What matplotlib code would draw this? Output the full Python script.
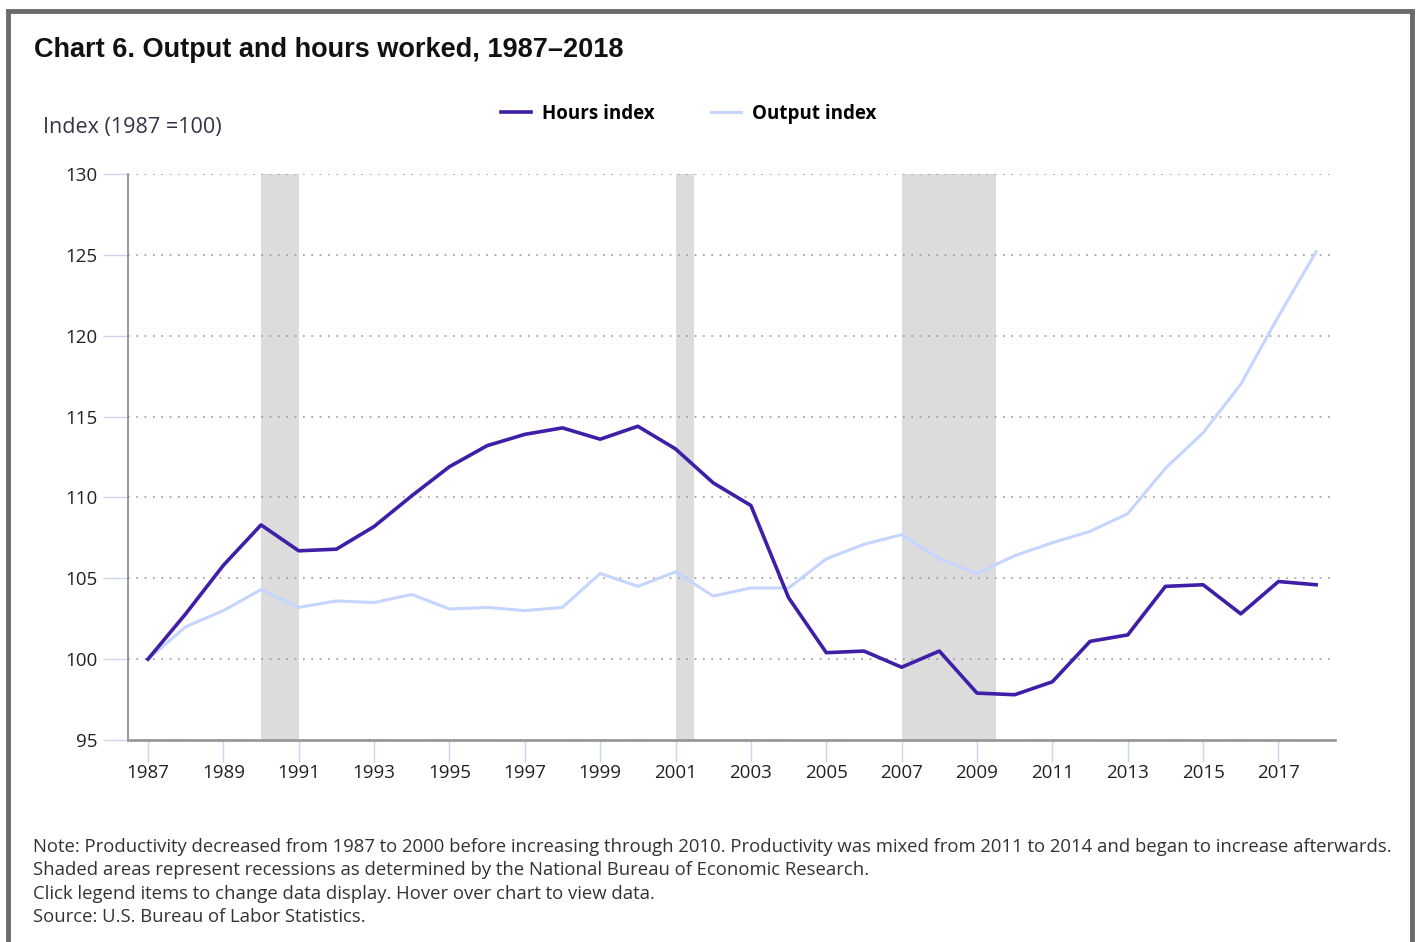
import matplotlib.pyplot as plt
from matplotlib.patches import Rectangle

years = list(range(1987, 2019))
hours = [100.0, 102.8, 105.8, 108.3, 106.7, 106.8, 108.2, 110.1, 111.9, 113.2,
         113.9, 114.3, 113.6, 114.4, 113.0, 110.9, 109.5, 103.8, 100.4, 100.5,
         99.5, 100.5, 97.9, 97.8, 98.6, 101.1, 101.5, 104.5, 104.6, 102.8,
         104.8, 104.6]
output = [100.0, 102.0, 103.0, 104.3, 103.2, 103.6, 103.5, 104.0, 103.1, 103.2,
          103.0, 103.2, 105.3, 104.5, 105.4, 103.9, 104.4, 104.4, 106.2, 107.1,
          107.7, 106.2, 105.3, 106.4, 107.2, 107.9, 109.0, 111.8, 114.0, 117.0,
          121.2, 125.2]
recessions = [(1990.0, 1991.0), (2001.0, 2001.5), (2007.0, 2009.5)]
tick_years = list(range(1987, 2019, 2))
y_ticks = [95, 100, 105, 110, 115, 120, 125, 130]

note = ("Note: Productivity decreased from 1987 to 2000 before increasing through 2010. "
        "Productivity was mixed from 2011 to 2014 and began to increase afterwards.\n"
        "Shaded areas represent recessions as determined by the National Bureau of Economic Research.\n"
        "Click legend items to change data display. Hover over chart to view data.\n"
        "Source: U.S. Bureau of Labor Statistics.")

plt.rcParams['font.family'] = ['Open Sans', 'DejaVu Sans']

fig = plt.figure(figsize=(14.17, 9.42), dpi=100)
ax = fig.add_axes([128 / 1417, 1 - 740 / 942, (1335 - 128) / 1417, (740 - 174) / 942])

for start, end in recessions:
    ax.axvspan(start, end, color='#dcdcdc', lw=0, zorder=0)

ax.plot(years, output, color='#c5d5ff', lw=2.2, label='Output index', zorder=3)
ax.plot(years, hours, color='#3f1ea8', lw=2.6, label='Hours index', zorder=4)

ax.set_xlim(1986.47, 2018.5)
ax.set_ylim(95, 130)
ax.set_xticks(tick_years)
ax.set_xticklabels([str(y) for y in tick_years], fontsize=13.5, color='#222222')
ax.set_yticks(y_ticks)
ax.set_yticklabels([str(y) for y in y_ticks], fontsize=13.5, color='#222222')
ax.tick_params(axis='x', length=16, width=1, color='#ccd6eb', pad=1)
ax.tick_params(axis='y', length=18, width=1, color='#ccd6eb', pad=4)

ax.grid(axis='y', linestyle=(0, (1, 4)), color='#9a9a9a', lw=1.2)
ax.set_axisbelow(True)
for side in ['top', 'right']:
    ax.spines[side].set_visible(False)
ax.spines['left'].set_color('#888888')
ax.spines['bottom'].set_color('#999999')
ax.spines['bottom'].set_linewidth(2)
ax.spines['left'].set_linewidth(1.2)

handles, labels = ax.get_legend_handles_labels()
fig.legend(handles[::-1], labels[::-1], loc='center', bbox_to_anchor=(689 / 1417, 1 - 114 / 942),
           ncol=2, frameon=False, handlelength=1.6, columnspacing=3.0,
           handletextpad=0.6, prop={'weight': 'bold', 'size': 13.5})

fig.text(34 / 1417, 1 - 50 / 942, 'Chart 6. Output and hours worked, 1987\u20132018',
         fontsize=19.5, fontweight='bold', family='Liberation Sans', va='center', color='#111111')
fig.text(43 / 1417, 1 - 128 / 942, 'Index (1987 =100)', fontsize=15.5, va='center', color='#333344')
fig.text(33 / 1417, 1 - 838 / 942, note, fontsize=13.3, va='top', ha='left', color='#333333',
         linespacing=1.38)

fig.patches.append(Rectangle((8 / 1417, -0.01), (1404 / 1417), (1 - 11 / 942) + 0.01,
                             transform=fig.transFigure, fill=False, edgecolor='#6b6b6b', lw=3.5))

fig.savefig('out.png', dpi=100)
